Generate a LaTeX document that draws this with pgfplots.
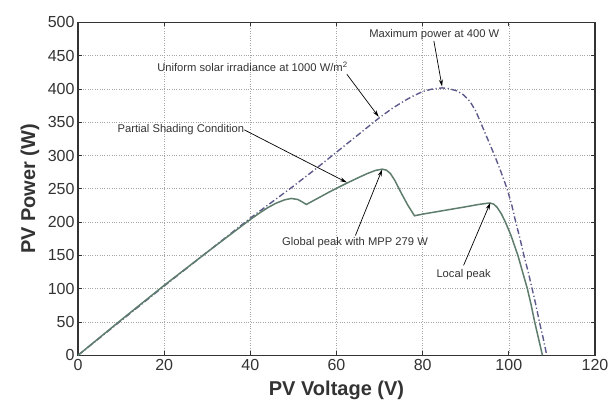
\documentclass[border=0pt]{standalone}
\usepackage{fontspec}
\setmainfont{Liberation Sans}
\usepackage{pgfplots}
\pgfplotsset{compat=1.18}
\usetikzlibrary{arrows.meta}
\definecolor{shadecol}{HTML}{5E7D6C}
\definecolor{unifcol}{HTML}{5D5A8C}
\definecolor{txtcol}{HTML}{333333}

\begin{document}
\begin{tikzpicture}
  \useasboundingbox (-78pt,-59pt) rectangle (536pt,355.3pt);
  \begin{axis}[
      scale only axis,
      width=517pt, height=333pt,
      xmin=0, xmax=120, ymin=0, ymax=500,
      xtick={0,20,...,120},
      ytick={0,50,...,500},
      tick align=inside,
      tick pos=both,
      major tick length=4pt,
      tick style={color=txtcol, line width=0.8pt},
      axis line style={color=txtcol, line width=1.1pt},
      grid=major,
      major grid style={dotted, color=gray!70, line width=0.6pt},
      ticklabel style={font=\fontsize{16}{17}\selectfont, color=txtcol},
      /pgf/number format/assume math mode=true,
      xlabel={PV Voltage (V)},
      ylabel={PV Power (W)},
      label style={font=\fontsize{20}{22}\selectfont\bfseries, color=txtcol},
      xlabel style={at={(axis description cs:0.5,-0.105)}, anchor=center},
      ylabel style={at={(axis description cs:-0.093,0.5)}, anchor=center},
      clip=false,
    ]
    % Uniform irradiance
    \addplot[color=unifcol, line width=1.4pt,
             dash pattern=on 6pt off 2.5pt on 1.2pt off 2.5pt] coordinates {
      (0,0)(10,52)(20,104)(30,155)(40,206)(45,230)(50,254)(55,279)(60,305)
      (65,331)(70,357)(73,371)(76,383)(78,390)(80,396)(82,399.5)(84.5,401.5)
      (86,400.5)(88,397)(89.5,391)(91,381)(92.3,367)(93.3,352)(95,326)
      (96.7,300)(98.2,275)(99.6,250)(100.7,225)(101.6,200)(102.6,175)
      (103.5,150)(104.5,125)(105.4,100)(106.3,75)(107.1,50)(108,25)(108.8,0)
    };
    % Partial shading
    \addplot[color=shadecol, line width=1.5pt] coordinates {
      (0,0)(10,53)(20,105)(30,155)(40,204)(42,213)(44,221.5)(46,228.5)
      (48,233.5)(49.5,235.5)(51,234)(52,230.5)(53,226.5)(56,237)(59,247.5)
      (62.4,258.5)(65,266.5)(67,272.5)(69,277.5)(70.6,279.5)(71.6,278)
      (72.5,273)(73.5,263)(75,244)(76.5,226)(78.1,209.5)(80,212)(85,217.5)
      (90,223)(93,226.5)(95,228.3)(95.7,228.5)(96.5,227)(97.3,222)(98.3,212)
      (99.2,200)(100.5,180)(102.1,150)(103.2,125)(104.3,100)(105.2,75)
      (106,50)(106.9,25)(107.8,0)
    };
    % annotations
    \tikzset{ann/.style={font=\fontsize{11.2}{12}\selectfont, color=txtcol, inner sep=0pt},
             arr/.style={-{Stealth[length=7pt,width=4pt]}, line width=0.7pt, color=black}}
    \node[ann] at (axis cs:82.7,481.5) {Maximum power at 400 W};
    \draw[arr] (axis cs:82.6,472) -- (axis cs:84.5,403.5);
    \node[ann] at (axis cs:40.5,433.5) {Uniform solar irradiance at 1000 W/m\textsuperscript{2}};
    \draw[arr] (axis cs:62.4,422) -- (axis cs:69.8,358);
    \node[ann, anchor=east] at (axis cs:38.6,338.5) {Partial Shading Condition};
    \draw[arr] (axis cs:38.6,338.5) -- (axis cs:62.4,259.5);
    \node[ann] at (axis cs:64.3,169.5) {Global peak with MPP 279 W};
    \draw[arr] (axis cs:64.4,180) -- (axis cs:70.6,279);
    \node[ann] at (axis cs:89.5,121) {Local peak};
    \draw[arr] (axis cs:89.5,135) -- (axis cs:95.7,229);
  \end{axis}
\end{tikzpicture}
\end{document}
